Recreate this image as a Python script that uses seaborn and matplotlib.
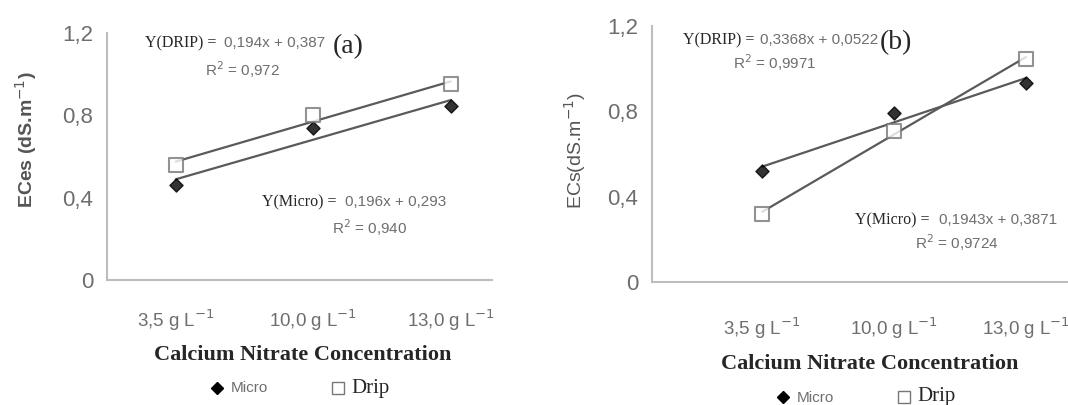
import numpy as np
import matplotlib
matplotlib.use("Agg")
import matplotlib.pyplot as plt
import seaborn as sns
from matplotlib.lines import Line2D

sns.set_style("white")
plt.rcParams['font.family'] = ['Liberation Sans', 'DejaVu Sans']

# category labels (x axis)
categories = ["3,5 g L$^{-1}$", "10,0 g L$^{-1}$", "13,0 g L$^{-1}$"]
y_ticks = [0, 0.4, 0.8, 1.2]
y_tick_labels = ["0", "0,4", "0,8", "1,2"]

# panel (a)
micro_a = [0.46, 0.74, 0.845]
drip_a = [0.56, 0.80, 0.95]
# panel (b)
micro_b = [0.52, 0.79, 0.935]
drip_b = [0.32, 0.71, 1.045]

xpos = np.arange(len(categories))

GRAY_TXT = "#6e6e6e"
LINE_C = "#5a5a5a"
SPINE_C = "#bdbdbd"

fig = plt.figure(figsize=(10.68, 4.05), dpi=100)
ax_a = fig.add_axes([107 / 1068, 125 / 405, 385 / 1068, 247 / 405])
ax_b = fig.add_axes([652 / 1068, 123 / 405, 416 / 1068, 256 / 405])


def draw_panel(ax, micro, drip, xlim, pad):
    sns.regplot(x=xpos, y=micro, ax=ax, ci=None, truncate=True,
                marker="D", scatter_kws=dict(s=45, color="black", zorder=4),
                line_kws=dict(color=LINE_C, lw=1.6, zorder=3))
    sns.regplot(x=xpos, y=drip, ax=ax, ci=None, truncate=True,
                marker="s", scatter_kws=dict(s=110, facecolor="white",
                                             edgecolor="#777777", linewidths=1.5, zorder=4),
                line_kws=dict(color=LINE_C, lw=1.6, zorder=3))
    ax.set_xlim(*xlim)
    ax.set_ylim(0, 1.2)
    ax.set_xticks(xpos)
    ax.set_xticklabels(categories, fontsize=13.5, color=GRAY_TXT)
    ax.set_xticks([0.5, 1.5], minor=True)
    ax.set_yticks(y_ticks)
    ax.set_yticklabels(y_tick_labels, fontsize=16, color=GRAY_TXT)
    ax.tick_params(axis="x", which="major", length=0, pad=pad)
    ax.tick_params(axis="x", which="minor", length=4, color=SPINE_C, direction="out")
    ax.tick_params(axis="y", length=4, color=SPINE_C, direction="out", pad=6)
    for s in ["top", "right"]:
        ax.spines[s].set_visible(False)
    for s in ["left", "bottom"]:
        ax.spines[s].set_color(SPINE_C)
        ax.spines[s].set_linewidth(1.5)
    ax.set_xlabel("")
    ax.set_ylabel("")


draw_panel(ax_a, micro_a, drip_a, (-0.5, 2.3), 20)
draw_panel(ax_b, micro_b, drip_b, (-0.837, 2.32), 24)


def px(x, y):
    return x / 1068, 1 - y / 405


# y labels
fig.text(*px(26, 140), "ECes (dS.m$^{-1}$)", rotation=90, fontsize=14,
         fontweight="bold", color="#555555", ha="center", va="center")
fig.text(*px(575, 150), "ECs(dS.m$^{-1}$)", rotation=90, fontsize=14,
         color="#555555", ha="center", va="center")

# x labels
serif = "Liberation Serif"
fig.text(*px(303, 355), "Calcium Nitrate Concentration", fontsize=16,
         fontweight="bold", family=serif, ha="center", va="center")
fig.text(*px(870, 364), "Calcium Nitrate Concentration", fontsize=16,
         fontweight="bold", family=serif, ha="center", va="center")

# panel annotations
fig.text(*px(145, 43), "Y(DRIP) = ", fontsize=11.5, family=serif, va="center")
fig.text(*px(224, 43), "0,194x + 0,387", fontsize=11, color=GRAY_TXT, va="center")
fig.text(*px(242, 70), "R$^2$ = 0,972", fontsize=11, color=GRAY_TXT, va="center", ha="center")
fig.text(*px(333, 47), "(a)", fontsize=20, family=serif, va="center")
fig.text(*px(262, 202), "Y(Micro) = ", fontsize=11.5, family=serif, va="center")
fig.text(*px(345, 202), "0,196x + 0,293", fontsize=11, color=GRAY_TXT, va="center")
fig.text(*px(370, 228), "R$^2$ = 0,940", fontsize=11, color=GRAY_TXT, va="center", ha="center")

fig.text(*px(683, 40), "Y(DRIP) = ", fontsize=11.5, family=serif, va="center")
fig.text(*px(760, 40), "0,3368x + 0,0522", fontsize=11, color=GRAY_TXT, va="center")
fig.text(*px(775, 63), "R$^2$ = 0,9971", fontsize=11, color=GRAY_TXT, va="center", ha="center")
fig.text(*px(880, 43), "(b)", fontsize=20, family=serif, va="center")
fig.text(*px(855, 220), "Y(Micro) = ", fontsize=11.5, family=serif, va="center")
fig.text(*px(939, 220), "0,1943x + 0,3871", fontsize=11, color=GRAY_TXT, va="center")
fig.text(*px(957, 243), "R$^2$ = 0,9724", fontsize=11, color=GRAY_TXT, va="center", ha="center")

# legends
handles = [Line2D([], [], ls="none", marker="D", color="black", markersize=6),
           Line2D([], [], ls="none", marker="s", markerfacecolor="white",
                  markeredgecolor="#777777", markersize=8)]
for ax, cx, cy in [(ax_a, 300, 388), (ax_b, 866, 397)]:
    leg = ax.legend(handles, ["Micro", "Drip"], ncol=2, loc="center",
                    bbox_to_anchor=px(cx, cy), bbox_transform=fig.transFigure,
                    frameon=False, columnspacing=4.5, handletextpad=0.5,
                    handlelength=1.0)
    t_micro, t_drip = leg.get_texts()
    t_micro.set_fontsize(11)
    t_micro.set_color(GRAY_TXT)
    t_drip.set_fontsize(15)
    t_drip.set_family(serif)

fig.savefig("out.png", dpi=100)
